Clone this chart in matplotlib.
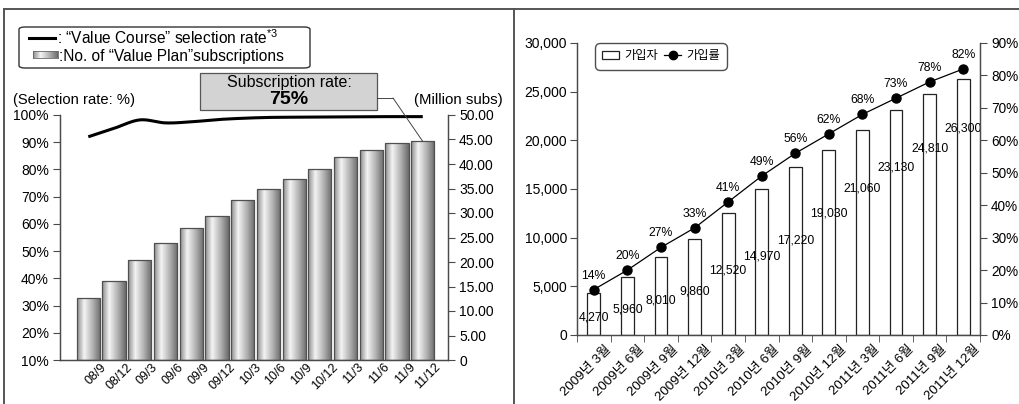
import numpy as np
import matplotlib
matplotlib.use("Agg")
import matplotlib.pyplot as plt
import matplotlib.transforms as mtransforms
from matplotlib.colors import LinearSegmentedColormap
from matplotlib.patches import FancyBboxPatch, Rectangle, Patch, ConnectionPatch
from matplotlib.lines import Line2D

plt.rcParams["font.family"] = ["Liberation Sans", "Noto Sans CJK KR", "DejaVu Sans"]
plt.rcParams["mathtext.fontset"] = "custom"
plt.rcParams["mathtext.rm"] = "Liberation Sans"
plt.rcParams["mathtext.it"] = "Liberation Sans"

# left panel: quarterly "Value Plan" subscriptions and "Value Course" selection rate
quarters = ["08/9", "08/12", "09/3", "09/6", "09/9", "09/12", "10/3",
            "10/6", "10/9", "10/12", "11/3", "11/6", "11/9", "11/12"]
subs_millions = [12.7, 16.2, 20.5, 23.8, 27.0, 29.4, 32.7,
                 35.0, 37.0, 39.0, 41.4, 42.8, 44.2, 44.6]
selection_rate = [92.0, 95.1, 98.2, 97.1, 97.5, 98.3, 98.8,
                  99.1, 99.2, 99.3, 99.3, 99.4, 99.4, 99.4]
subscription_rate_note = "75%"

# right panel: subscribers and subscription rate
periods = ["2009년 3월", "2009년 6월", "2009년 9월", "2009년 12월",
           "2010년 3월", "2010년 6월", "2010년 9월", "2010년 12월",
           "2011년 3월", "2011년 6월", "2011년 9월", "2011년 12월"]
subscribers = [4270, 5960, 8010, 9860, 12520, 14970,
               17220, 19030, 21060, 23130, 24810, 26300]
join_rate = [14, 20, 27, 33, 41, 49, 56, 62, 68, 73, 78, 82]

# how far each count label sits below its bar top (pixels)
count_label_drop = [24, 33, 43, 52, 57, 67, 73, 64, 58, 58, 55, 49]

W, H = 1019, 404
fig = plt.figure(figsize=(W / 100, H / 100), dpi=100)


def fx(px):
    return px / W


def fy(py):
    return 1 - py / H


def smooth(xs, ys, n=24):
    # Catmull-Rom curve through the points
    xs = np.asarray(xs, float)
    ys = np.asarray(ys, float)
    px = np.concatenate([[2 * xs[0] - xs[1]], xs, [2 * xs[-1] - xs[-2]]])
    py = np.concatenate([[2 * ys[0] - ys[1]], ys, [2 * ys[-1] - ys[-2]]])
    out_x, out_y = [], []
    t = np.linspace(0, 1, n, endpoint=False)
    for i in range(1, len(px) - 2):
        for arr, out in ((px, out_x), (py, out_y)):
            p0, p1, p2, p3 = arr[i - 1], arr[i], arr[i + 1], arr[i + 2]
            out.extend(0.5 * (2 * p1 + (-p0 + p2) * t
                              + (2 * p0 - 5 * p1 + 4 * p2 - p3) * t ** 2
                              + (-p0 + 3 * p1 - 3 * p2 + p3) * t ** 3))
    out_x.append(xs[-1])
    out_y.append(ys[-1])
    return np.array(out_x), np.array(out_y)


axis_col = "#4a4a4a"
cyl = LinearSegmentedColormap.from_list(
    "cyl", [(0, "#8c8c8c"), (0.3, "#f4f4f4"), (0.65, "#b4b4b4"), (1, "#6a6a6a")])

# ---------------- left panel ----------------
axb = fig.add_axes([fx(60), fy(360), fx(448) - fx(60), fy(115) - fy(360)])
axl = axb.twinx()

x = np.arange(len(quarters))
bars = axb.bar(x, subs_millions, width=0.9, facecolor="none",
               edgecolor="#505050", linewidth=0.9, zorder=3)
grad = np.linspace(0, 1, 64).reshape(1, -1)
for b in bars:
    x0, y0 = b.get_x(), b.get_y()
    im = axb.imshow(grad, cmap=cyl, aspect="auto", zorder=2,
                    extent=[x0, x0 + b.get_width(), y0, y0 + b.get_height()])
    im.set_clip_path(b)

axb.set_xlim(-1.1, len(quarters) - 0.02)
axb.set_ylim(0, 50)
axb.yaxis.tick_right()
axb.set_yticks(np.arange(0, 51, 5))
axb.set_yticklabels(["0"] + [f"{v:.2f}" for v in np.arange(5, 51, 5)])
axb.set_xticks(x)
axb.set_xticklabels(quarters, rotation=45, ha="right", rotation_mode="anchor")
axb.tick_params(axis="x", length=0, pad=1, labelsize=9)
axb.tick_params(axis="y", direction="out", length=5, color=axis_col,
                labelsize=10, pad=3)
shift = mtransforms.ScaledTranslation(0.12, 0, fig.dpi_scale_trans)
for lab in axb.get_xticklabels():
    lab.set_transform(lab.get_transform() + shift)

sx, sy = smooth(x, selection_rate)
axl.plot(sx, sy, color="black", linewidth=2.2, solid_capstyle="butt", zorder=5)
axl.set_ylim(10, 100)
axl.yaxis.tick_left()
axl.set_yticks(np.arange(10, 101, 10))
axl.set_yticklabels([f"{v}%" for v in range(10, 101, 10)])
axl.tick_params(axis="y", direction="out", length=5, color=axis_col,
                labelsize=10, pad=3)

for a in (axb, axl):
    a.spines["top"].set_visible(False)
    for s in ("left", "right", "bottom"):
        a.spines[s].set_color(axis_col)
        a.spines[s].set_linewidth(0.9)
    a.patch.set_visible(False)

fig.text(fx(13), fy(100), "(Selection rate: %)", fontsize=10.6, va="center", ha="left")
fig.text(fx(503), fy(100), "(Million subs)", fontsize=10.8, va="center", ha="right")

# legend box
fig.add_artist(FancyBboxPatch((fx(19), fy(68)), fx(310) - fx(19), fy(27) - fy(68),
                              boxstyle="round,pad=0,rounding_size=0.006",
                              transform=fig.transFigure, facecolor="white",
                              edgecolor="#333333", linewidth=1.0))
fig.add_artist(Line2D([fx(29), fx(55)], [fy(38), fy(38)], color="black",
                      linewidth=2.2, transform=fig.transFigure))
fig.text(fx(57), fy(38), ": \u201cValue Course\u201d selection rate$^{*3}$",
         fontsize=11.2, va="center", ha="left")
leg_ax = fig.add_axes([fx(33), fy(58), fx(58) - fx(33), fy(51) - fy(58)])
leg_ax.imshow(grad, cmap=cyl, aspect="auto")
leg_ax.set_xticks([])
leg_ax.set_yticks([])
for s in leg_ax.spines.values():
    s.set_color("#666666")
    s.set_linewidth(0.6)
leg_ax.set_zorder(5)
fig.text(fx(59), fy(57), ":No. of \u201cValue Plan\u201dsubscriptions",
         fontsize=11.2, va="center", ha="left")

# callout for subscription rate
fig.add_artist(Rectangle((fx(200), fy(110)), fx(377) - fx(200), fy(73) - fy(110),
                         transform=fig.transFigure, facecolor="#d3d3d3",
                         edgecolor="#555555", linewidth=0.9))
fig.text(fx(289), fy(82), "Subscription rate:", fontsize=11.5, ha="center", va="center")
fig.text(fx(289), fy(99), subscription_rate_note, fontsize=14, fontweight="bold",
         ha="center", va="center")
fig.add_artist(Line2D([fx(377), fx(393)], [fy(98), fy(98)], color="#444444",
                      linewidth=0.7, transform=fig.transFigure))
con = ConnectionPatch(xyA=(fx(393), fy(98)), coordsA=fig.transFigure,
                      xyB=(x[-1], subs_millions[-1]), coordsB=axb.transData,
                      color="#444444", linewidth=0.7)
fig.add_artist(con)

# ---------------- right panel ----------------
ax = fig.add_axes([fx(577), fy(335), fx(980) - fx(577), fy(43) - fy(335)])
ax2 = ax.twinx()
xr = np.arange(len(periods))
ax.bar(xr, subscribers, width=0.38, facecolor="white", edgecolor="#222222",
       linewidth=0.9, zorder=2)
for xi, v, drop in zip(xr, subscribers, count_label_drop):
    ax.annotate(f"{v:,}", (xi, v), xytext=(0, -drop), textcoords="offset pixels",
                ha="center", va="center", fontsize=8.8, zorder=4)

ax.set_xlim(-0.5, len(periods) - 0.5)
ax.set_ylim(0, 30000)
ax.set_yticks(np.arange(0, 30001, 5000))
ax.set_yticklabels([f"{v:,}" for v in range(0, 30001, 5000)])
ax.set_xticks(xr)
ax.set_xticklabels(periods, rotation=45, ha="right", rotation_mode="anchor")
ax.set_xticks(np.arange(-0.5, len(periods)), minor=True)
ax.tick_params(axis="x", which="major", length=0, pad=6, labelsize=9.6)
ax.tick_params(axis="x", which="minor", length=5, direction="out", color=axis_col)
ax.tick_params(axis="y", direction="out", length=5, color=axis_col, labelsize=10, pad=2)
shift_r = mtransforms.ScaledTranslation(0.11, 0, fig.dpi_scale_trans)
for lab in ax.get_xticklabels():
    lab.set_transform(lab.get_transform() + shift_r)

ax2.plot(xr, join_rate, color="black", linewidth=0.9, marker="o",
         markersize=6.5, zorder=5)
for xi, r in zip(xr, join_rate):
    ax2.annotate(f"{r}%", (xi, r), xytext=(0, 14), textcoords="offset pixels",
                 ha="center", va="center", fontsize=8.8)
ax2.set_ylim(0, 90)
ax2.set_yticks(np.arange(0, 91, 10))
ax2.set_yticklabels([f"{v}%" for v in range(0, 91, 10)])
ax2.tick_params(axis="y", direction="out", length=5, color=axis_col, labelsize=9.8, pad=3)

for a in (ax, ax2):
    a.spines["top"].set_visible(False)
    for s in ("left", "right", "bottom"):
        a.spines[s].set_color(axis_col)
        a.spines[s].set_linewidth(0.9)

handles = [Patch(facecolor="white", edgecolor="#222222", linewidth=0.9),
           Line2D([], [], color="black", linewidth=0.9, marker="o", markersize=6)]
leg = ax.legend(handles, ["가입자", "가입률"], ncol=2, loc="upper left",
                bbox_to_anchor=(fx(595), fy(43)), bbox_transform=fig.transFigure,
                fontsize=8.8, frameon=True, fancybox=True, borderpad=0.6,
                handlelength=1.4, handleheight=0.6, handletextpad=0.4,
                columnspacing=0.5, borderaxespad=0)
leg.get_frame().set_edgecolor("#222222")
leg.get_frame().set_linewidth(1.0)
leg.get_frame().set_boxstyle("round,pad=0,rounding_size=0.4")

# panel frame
frame = dict(color="#555555", linewidth=1.4, transform=fig.transFigure)
fig.add_artist(Line2D([fx(4), 1], [fy(9), fy(9)], **frame))
fig.add_artist(Line2D([fx(4), fx(4)], [fy(9), 0], **frame))
fig.add_artist(Line2D([fx(514), fx(514)], [fy(9), 0], **frame))

fig.savefig("out.png", dpi=100)
